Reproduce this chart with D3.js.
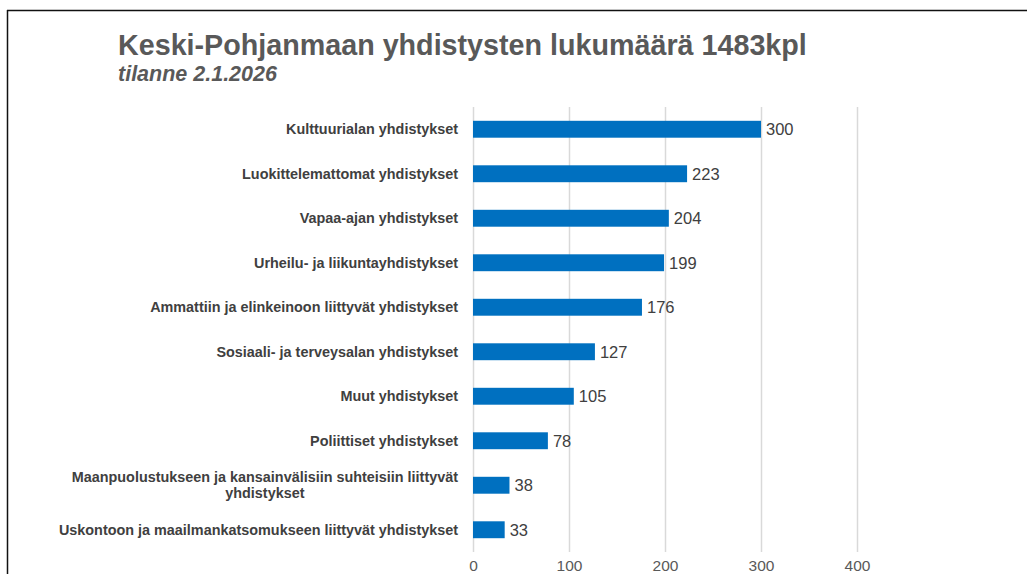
<!DOCTYPE html>
<html>
<head>
<meta charset="utf-8">
<script src="https://cdn.jsdelivr.net/npm/d3@7"></script>
<style>
  body { margin: 0; background: #fff; }
  svg { display: block; font-family: "Liberation Sans", Arial, sans-serif; }
</style>
</head>
<body>
<svg id="chart" width="1029" height="574"></svg>
<script>
// data
var categories = [
  "Kulttuurialan yhdistykset",
  "Luokittelemattomat yhdistykset",
  "Vapaa-ajan yhdistykset",
  "Urheilu- ja liikuntayhdistykset",
  "Ammattiin ja elinkeinoon liittyvät yhdistykset",
  "Sosiaali- ja terveysalan yhdistykset",
  "Muut yhdistykset",
  "Poliittiset yhdistykset",
  "Maanpuolustukseen ja kansainvälisiin suhteisiin liittyvät yhdistykset",
  "Uskontoon ja maailmankatsomukseen liittyvät yhdistykset"
]
var values = [300, 223, 204, 199, 176, 127, 105, 78, 38, 33]
var xTicks = [0, 100, 200, 300, 400]

var svg = d3.select("#chart")

// frame lines (top + left)
svg.append("line")
  .attr("x1", 7).attr("x2", 1027).attr("y1", 10.5).attr("y2", 10.5)
  .style("stroke", "#111").style("stroke-width", 1.5)
svg.append("line")
  .attr("x1", 7.5).attr("x2", 7.5).attr("y1", 10).attr("y2", 574)
  .style("stroke", "#111").style("stroke-width", 1.5)

// titles
svg.append("text")
  .attr("x", 118).attr("y", 55)
  .style("font-size", "28.7px").style("font-weight", "bold")
  .style("fill", "#595959")
  .text("Keski-Pohjanmaan yhdistysten lukumäärä 1483kpl")

svg.append("text")
  .attr("x", 118).attr("y", 81)
  .style("font-size", "21.5px").style("font-weight", "bold").style("font-style", "italic")
  .style("fill", "#595959")
  .text("tilanne 2.1.2026")

// scales
var x = d3.scaleLinear().domain([0, 400]).range([473, 857])
var y = d3.scaleBand().domain(categories).range([107, 552]).paddingInner(0.62).paddingOuter(0.31)

// gridlines
svg.append("g").selectAll("line")
  .data(xTicks)
  .join("line")
  .attr("x1", function(d) { return x(d) + 0.5 })
  .attr("x2", function(d) { return x(d) + 0.5 })
  .attr("y1", 107).attr("y2", 552)
  .style("stroke", "#d9d9d9").style("stroke-width", 1.5)

// x axis labels
var xAxis = svg.append("g")
  .attr("transform", "translate(0,552)")
  .call(d3.axisBottom(x).tickValues(xTicks).tickSize(0).tickPadding(8))
xAxis.select(".domain").remove()
xAxis.selectAll("text")
  .style("font-family", "'Liberation Sans', Arial, sans-serif")
  .style("font-size", "15.5px").style("fill", "#595959")

// bars
svg.append("g").selectAll("rect")
  .data(values)
  .join("rect")
  .attr("x", x(0))
  .attr("y", function(d, i) { return y(categories[i]) })
  .attr("width", function(d) { return x(d) - x(0) })
  .attr("height", y.bandwidth())
  .style("fill", "#0070c0")

// value labels
svg.append("g").selectAll("text")
  .data(values)
  .join("text")
  .attr("x", function(d) { return x(d) + 5 })
  .attr("y", function(d, i) { return y(categories[i]) + y.bandwidth() / 2 })
  .attr("dy", "0.35em")
  .style("font-size", "16.5px").style("fill", "#404040")
  .text(function(d) { return d })

// category labels, wrapped if too wide
var labelX = 458
var maxW = 420
var catLabels = svg.append("g").selectAll("text")
  .data(categories)
  .join("text")
  .attr("y", function(d) { return y(d) + y.bandwidth() / 2 })
  .style("font-size", "14.4px").style("font-weight", "bold").style("fill", "#404040")
  .attr("text-anchor", "end")
  .attr("x", labelX)
  .attr("dy", "0.35em")
  .text(function(d) { return d })

catLabels.each(function(d) {
  var t = d3.select(this)
  if (this.getComputedTextLength() <= maxW) return
  var words = d.split(" ")
  var line1 = words.slice()
  var line2 = []
  t.text(line1.join(" "))
  while (this.getComputedTextLength() > maxW && line1.length > 1) {
    line2.unshift(line1.pop())
    t.text(line1.join(" "))
  }
  var w1 = this.getComputedTextLength()
  var cy = +t.attr("y")
  t.text(null).attr("text-anchor", "middle").attr("dy", null)
  t.append("tspan").attr("x", labelX - w1 / 2).attr("y", cy - 3).text(line1.join(" "))
  t.append("tspan").attr("x", labelX - w1 / 2).attr("y", cy + 13).text(line2.join(" "))
})
</script>
</body>
</html>
